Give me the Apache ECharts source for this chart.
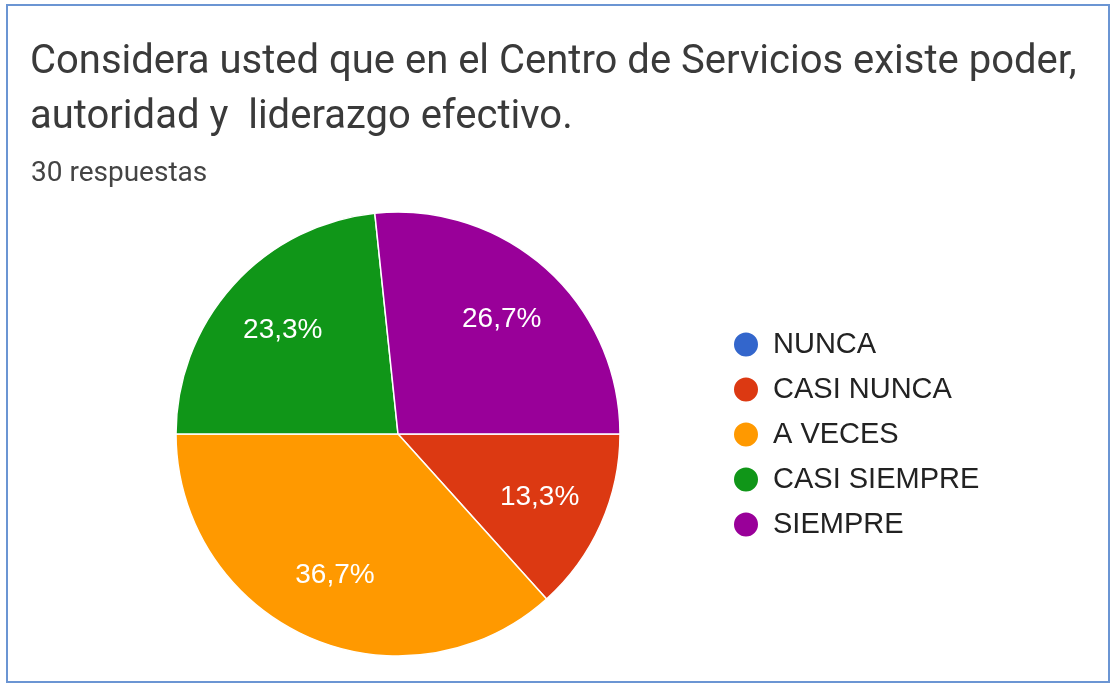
<!DOCTYPE html>
<html>
<head>
<meta charset="utf-8">
<script src="https://cdn.jsdelivr.net/npm/echarts@6/dist/echarts.min.js"></script>
<style>
  html, body { margin: 0; padding: 0; background: #fff; }
  #chart { width: 1116px; height: 686px; }
</style>
</head>
<body>
<div id="chart"></div>
<script>
// Survey answers (30 responses)
const categories = ['NUNCA', 'CASI NUNCA', 'A VECES', 'CASI SIEMPRE', 'SIEMPRE'];
const counts = [0, 4, 11, 7, 8];
const colors = ['#3366cc', '#dc3912', '#ff9900', '#109618', '#990099'];
const titleLines = [
  'Considera usted que en el Centro de Servicios existe poder,',
  'autoridad y  liderazgo efectivo.'
];
const subtitle = '30 respuestas';

const total = counts.reduce((a, b) => a + b, 0);
const pieData = categories.map((name, i) => ({ name, value: counts[i] }));
const pctLabel = p => (p.value > 0 ? (p.value / total * 100).toFixed(1).replace('.', ',') + '%' : '');

const center = [398, 434];
const chart = echarts.init(document.getElementById('chart'), null, { renderer: 'canvas' });

chart.setOption({
  backgroundColor: '#ffffff',
  color: colors,
  animation: false,
  graphic: [{
    type: 'rect',
    shape: { x: 7, y: 5, width: 1102, height: 677 },
    style: { fill: 'none', stroke: '#6b95d3', lineWidth: 2 },
    silent: true
  }],
  title: [{
    text: titleLines.join('\n'),
    left: 25, top: 30,
    textStyle: { fontFamily: 'Roboto', fontSize: 40, fontWeight: 'normal', color: '#3a3a3a', lineHeight: 55 }
  }, {
    text: subtitle,
    left: 26, top: 155,
    textStyle: { fontFamily: 'Roboto', fontSize: 28, fontWeight: 'normal', color: '#444444' }
  }],
  legend: {
    orient: 'vertical',
    left: 727, top: 325,
    icon: 'circle',
    itemWidth: 26, itemHeight: 26,
    itemGap: 16,
    data: categories,
    textStyle: { fontFamily: 'Liberation Sans, Arial', fontSize: 29, color: '#222222', lineHeight: 29, padding: [0, 0, 0, 9] }
  },
  series: [{
    // visible slices
    type: 'pie',
    center: center,
    radius: 222,
    startAngle: 0,
    clockwise: true,
    data: pieData,
    label: { show: false },
    labelLine: { show: false },
    itemStyle: { borderColor: '#ffffff', borderWidth: 1.5 },
    emphasis: { disabled: true },
    silent: true
  }, {
    // transparent ring that only carries the percentage labels further out
    type: 'pie',
    center: center,
    radius: 304,
    startAngle: 0,
    clockwise: true,
    data: pieData,
    legendHoverLink: false,
    itemStyle: { color: 'rgba(0,0,0,0)' },
    label: {
      show: true,
      position: 'inside',
      formatter: pctLabel,
      fontFamily: 'Liberation Sans, Arial',
      fontSize: 28,
      color: '#ffffff'
    },
    labelLine: { show: false },
    emphasis: { disabled: true },
    silent: true
  }]
});
</script>
</body>
</html>
